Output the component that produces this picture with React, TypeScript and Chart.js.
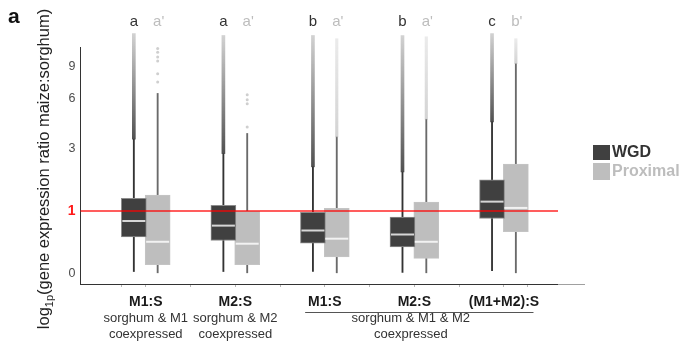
import React, { useEffect, useRef } from 'react';
import { Chart, registerables } from 'chart.js';

Chart.register(...registerables);

// ---------- data (original units, plotted on a log1p scale) ----------
const categories = ['M1:S', 'M2:S', 'M1:S', 'M2:S', '(M1+M2):S'];
const seriesNames = ['WGD', 'Proximal'];
const wgdLetters = ['a', 'a', 'b', 'b', 'c'];
const proxLetters = ["a'", "a'", "a'", "a'", "b'"];
const subgroupTitles = [
  ['sorghum & M1', 'coexpressed'],
  ['sorghum & M2', 'coexpressed'],
  ['sorghum & M1 & M2', 'coexpressed'],
];
const yTickValues = [0, 1, 3, 6, 9];
const referenceValue = 1;

const wgdWhiskerLow = [0.02, 0.02, 0.02, 0.01, 0.03];
const wgdQ1 = [0.5, 0.44, 0.4, 0.34, 0.84];
const wgdMedian = [0.79, 0.7, 0.61, 0.54, 1.22];
const wgdQ3 = [1.3, 1.13, 0.97, 0.87, 1.83];
const wgdWhiskerHigh = [3.45, 2.79, 2.27, 2.09, 4.39];
const wgdOutlierMax = [13.4, 13.1, 13.1, 13.1, 13.4];

const proxWhiskerLow = [0, 0, 0, 0, 0];
const proxQ1 = [0.1, 0.1, 0.2, 0.18, 0.59];
const proxMedian = [0.42, 0.39, 0.47, 0.42, 1.07];
const proxQ3 = [1.39, 1.0, 1.06, 1.21, 2.37];
const proxWhiskerHigh = [6.4, 3.74, 3.56, 4.55, 9.3];
const proxOutlierMax: (number | null)[] = [null, null, 12.6, 12.9, 12.6];
const proxSparseOutliers: number[][] = [
  [7.4, 8.2, 9.6, 10.1, 10.7, 11.2],
  [4.1, 5.6, 5.9, 6.3],
  [],
  [],
  [],
];

// ---------- helpers ----------
const lp = (v: number) => Math.log1p(v);
const DODGE = 0.133;
const BOX_W = 25;
const FONT = "'Liberation Sans', Arial, Helvetica, sans-serif";

const WGD_FILL = '#404040';
const PROX_FILL = '#bebebe';

const wgdX = (i: number) => i - DODGE;
const proxX = (i: number) => i + DODGE;

const streakGradient = (rgb: string, a0: number, a1: number) => (c: any) => {
  const chart = c.chart;
  const ys = chart.scales && chart.scales.y;
  const raw = c.raw;
  if (!ys || !raw || !Array.isArray(raw.y)) return `rgba(${rgb},${a0})`;
  const y0 = ys.getPixelForValue(raw.y[0]);
  const y1 = ys.getPixelForValue(raw.y[1]);
  if (!isFinite(y0) || !isFinite(y1) || y0 === y1) return `rgba(${rgb},${a0})`;
  const g = chart.ctx.createLinearGradient(0, y0, 0, y1);
  g.addColorStop(0, `rgba(${rgb},${a0})`);
  g.addColorStop(1, `rgba(${rgb},${a1})`);
  return g;
};

const annotations = {
  id: 'annotations',
  afterDraw(chart: any) {
    const { ctx, chartArea, scales } = chart;
    const x = scales.x;
    const y = scales.y;
    ctx.save();

    // reference line at ratio 1
    const yRef = y.getPixelForValue(lp(referenceValue));
    ctx.strokeStyle = 'rgba(255,0,0,0.85)';
    ctx.lineWidth = 1.5;
    ctx.beginPath();
    ctx.moveTo(chartArea.left, yRef);
    ctx.lineTo(chartArea.right, yRef);
    ctx.stroke();

    // light extension of x axis
    ctx.strokeStyle = '#a0a0a0';
    ctx.lineWidth = 1;
    ctx.beginPath();
    ctx.moveTo(chartArea.right, chartArea.bottom + 0.5);
    ctx.lineTo(chartArea.right + 27, chartArea.bottom + 0.5);
    ctx.stroke();

    // significance letters
    ctx.textAlign = 'center';
    ctx.textBaseline = 'alphabetic';
    ctx.font = `15px ${FONT}`;
    categories.forEach((_, i) => {
      ctx.fillStyle = '#333333';
      ctx.fillText(wgdLetters[i], x.getPixelForValue(wgdX(i)), chartArea.top - 21);
      ctx.fillStyle = '#bdbdbd';
      ctx.fillText(proxLetters[i], x.getPixelForValue(proxX(i)) + 1, chartArea.top - 21);
    });

    // category labels
    ctx.font = `bold 14px ${FONT}`;
    ctx.fillStyle = '#1a1a1a';
    categories.forEach((c, i) => {
      ctx.fillText(c, x.getPixelForValue(i), chartArea.bottom + 22);
    });

    // subgroup labels
    const subCenters = [0, 1, 2.96];
    ctx.font = `13px ${FONT}`;
    ctx.fillStyle = '#333333';
    subgroupTitles.forEach((lines, k) => {
      const cx = x.getPixelForValue(subCenters[k]);
      lines.forEach((t, j) => ctx.fillText(t, cx, chartArea.bottom + 38 + j * 16));
    });
    ctx.strokeStyle = '#555555';
    ctx.lineWidth = 1;
    ctx.beginPath();
    ctx.moveTo(x.getPixelForValue(1.78), chartArea.bottom + 28.5);
    ctx.lineTo(x.getPixelForValue(4.33), chartArea.bottom + 28.5);
    ctx.stroke();

    // y axis title with subscript
    const mainA = 'log';
    const sub = '1p';
    const mainB = '(gene expression ratio maize:sorghum)';
    ctx.font = `16.5px ${FONT}`;
    const wA = ctx.measureText(mainA).width;
    const wB = ctx.measureText(mainB).width;
    ctx.font = `11px ${FONT}`;
    const wS = ctx.measureText(sub).width;
    const total = wA + wS + wB;
    const cy = 169;
    ctx.translate(49, cy + total / 2);
    ctx.rotate(-Math.PI / 2);
    ctx.textAlign = 'left';
    ctx.fillStyle = '#222222';
    ctx.font = `16.5px ${FONT}`;
    ctx.fillText(mainA, 0, 0);
    ctx.font = `11px ${FONT}`;
    ctx.fillText(sub, wA, 4);
    ctx.font = `16.5px ${FONT}`;
    ctx.fillText(mainB, wA + wS, 0);
    ctx.setTransform(1, 0, 0, 1, 0, 0);

    // panel label
    ctx.textAlign = 'left';
    ctx.fillStyle = '#111111';
    ctx.font = `bold 21px ${FONT}`;
    ctx.fillText('a', 8, 23);

    // legend
    ctx.fillStyle = WGD_FILL;
    ctx.fillRect(593, 145, 17, 15);
    ctx.fillStyle = PROX_FILL;
    ctx.fillRect(593, 163, 17, 17);
    ctx.font = `bold 16px ${FONT}`;
    ctx.textBaseline = 'middle';
    ctx.fillStyle = '#333333';
    ctx.fillText(seriesNames[0], 612, 153);
    ctx.fillStyle = '#bdbdbd';
    ctx.fillText(seriesNames[1], 612, 172);

    ctx.restore();
  },
};

export default function App() {
  const canvasRef = useRef<HTMLCanvasElement | null>(null);

  useEffect(() => {
    document.body.style.margin = '0';
    const canvas = canvasRef.current;
    if (!canvas) return;

    const idx = categories.map((_, i) => i);

    const datasets: any[] = [
      // whiskers
      {
        type: 'bar',
        label: 'wgd-whisker',
        data: idx.map((i) => ({ x: wgdX(i), y: [lp(wgdWhiskerLow[i]), lp(wgdWhiskerHigh[i])] })),
        backgroundColor: '#333333',
        borderWidth: 0,
        barThickness: 1.2,
        grouped: false,
        clip: false,
        order: 6,
      },
      {
        type: 'bar',
        label: 'prox-whisker',
        data: idx.map((i) => ({ x: proxX(i), y: [lp(proxWhiskerLow[i]), lp(proxWhiskerHigh[i])] })),
        backgroundColor: '#6a6a6a',
        borderWidth: 0,
        barThickness: 1.2,
        grouped: false,
        clip: false,
        order: 6,
      },
      // outlier streaks
      {
        type: 'bar',
        label: 'wgd-outliers',
        data: idx.map((i) => ({ x: wgdX(i), y: [lp(wgdWhiskerHigh[i]), lp(wgdOutlierMax[i])] })),
        backgroundColor: streakGradient('50,50,50', 0.85, 0.22),
        borderWidth: 0,
        barThickness: 3,
        grouped: false,
        clip: false,
        order: 5,
      },
      {
        type: 'bar',
        label: 'prox-outliers',
        data: idx
          .filter((i) => proxOutlierMax[i] != null)
          .map((i) => ({ x: proxX(i), y: [lp(proxWhiskerHigh[i]), lp(proxOutlierMax[i] as number)] })),
        backgroundColor: streakGradient('175,175,175', 0.55, 0.25),
        borderWidth: 0,
        barThickness: 2.5,
        grouped: false,
        clip: false,
        order: 5,
      },
      // boxes
      {
        type: 'bar',
        label: seriesNames[0],
        data: idx.map((i) => ({ x: wgdX(i), y: [lp(wgdQ1[i]), lp(wgdQ3[i])] })),
        backgroundColor: WGD_FILL,
        borderColor: '#8c8c8c',
        borderWidth: 1,
        borderSkipped: false,
        barThickness: BOX_W,
        grouped: false,
        clip: false,
        order: 4,
      },
      {
        type: 'bar',
        label: seriesNames[1],
        data: idx.map((i) => ({ x: proxX(i), y: [lp(proxQ1[i]), lp(proxQ3[i])] })),
        backgroundColor: PROX_FILL,
        borderColor: '#c4c4c4',
        borderWidth: 1,
        borderSkipped: false,
        barThickness: BOX_W,
        grouped: false,
        clip: false,
        order: 4,
      },
      // medians
      {
        type: 'scatter',
        label: 'wgd-median',
        data: idx.map((i) => ({ x: wgdX(i), y: lp(wgdMedian[i]) })),
        pointStyle: 'line',
        pointRadius: 11.5,
        pointBorderWidth: 2,
        pointBorderColor: '#d6d6d6',
        pointBackgroundColor: '#d6d6d6',
        clip: false,
        order: 3,
      },
      {
        type: 'scatter',
        label: 'prox-median',
        data: idx.map((i) => ({ x: proxX(i), y: lp(proxMedian[i]) })),
        pointStyle: 'line',
        pointRadius: 11.5,
        pointBorderWidth: 2,
        pointBorderColor: '#f2f2f2',
        pointBackgroundColor: '#f2f2f2',
        clip: false,
        order: 3,
      },
      // sparse outliers
      {
        type: 'scatter',
        label: 'prox-points',
        data: idx.flatMap((i) => proxSparseOutliers[i].map((v) => ({ x: proxX(i), y: lp(v) }))),
        pointStyle: 'circle',
        pointRadius: 1.5,
        pointBorderWidth: 0,
        pointBackgroundColor: 'rgba(175,175,175,0.6)',
        clip: false,
        order: 2,
      },
    ];

    const chart = new Chart(canvas, {
      type: 'bar',
      data: { datasets },
      options: {
        responsive: false,
        animation: false,
        events: [],
        layout: { padding: { top: 47, right: 124, left: 0, bottom: 0 } },
        plugins: { legend: { display: false }, tooltip: { enabled: false } },
        scales: {
          x: {
            type: 'linear',
            min: -0.462,
            max: 4.337,
            afterBuildTicks: (s: any) => {
              s.ticks = idx.flatMap((i) => [{ value: wgdX(i) }, { value: proxX(i) }]);
            },
            afterFit: (s: any) => {
              s.height = 66;
            },
            ticks: { callback: () => '', autoSkip: false, maxRotation: 0 },
            grid: {
              display: true,
              drawOnChartArea: false,
              drawTicks: true,
              tickLength: 3,
              color: '#b5b5b5',
            },
            border: { display: true, color: '#333333', width: 1 },
          },
          y: {
            type: 'linear',
            min: -0.119,
            max: 2.518,
            afterBuildTicks: (s: any) => {
              s.ticks = yTickValues.map((v) => ({ value: lp(v) }));
            },
            afterFit: (s: any) => {
              s.width = 80.5;
            },
            ticks: {
              autoSkip: false,
              padding: 5,
              callback: (_v: any, i: number) => String(yTickValues[i]),
              color: (c: any) =>
                c.tick && Math.abs(c.tick.value - lp(referenceValue)) < 1e-6 ? '#ff1a1a' : '#4d4d4d',
              font: (c: any) =>
                c.tick && Math.abs(c.tick.value - lp(referenceValue)) < 1e-6
                  ? { family: FONT, size: 14, weight: 'bold' }
                  : { family: FONT, size: 12.5 },
            },
            grid: { display: true, drawOnChartArea: false, drawTicks: false, color: 'rgba(0,0,0,0)' },
            border: { display: true, color: '#333333', width: 1 },
          },
        },
      },
      plugins: [annotations],
    } as any);

    return () => chart.destroy();
  }, []);

  return (
    <div style={{ width: 682, height: 350 }}>
      <canvas ref={canvasRef} width={682} height={350} style={{ display: 'block' }} />
    </div>
  );
}
